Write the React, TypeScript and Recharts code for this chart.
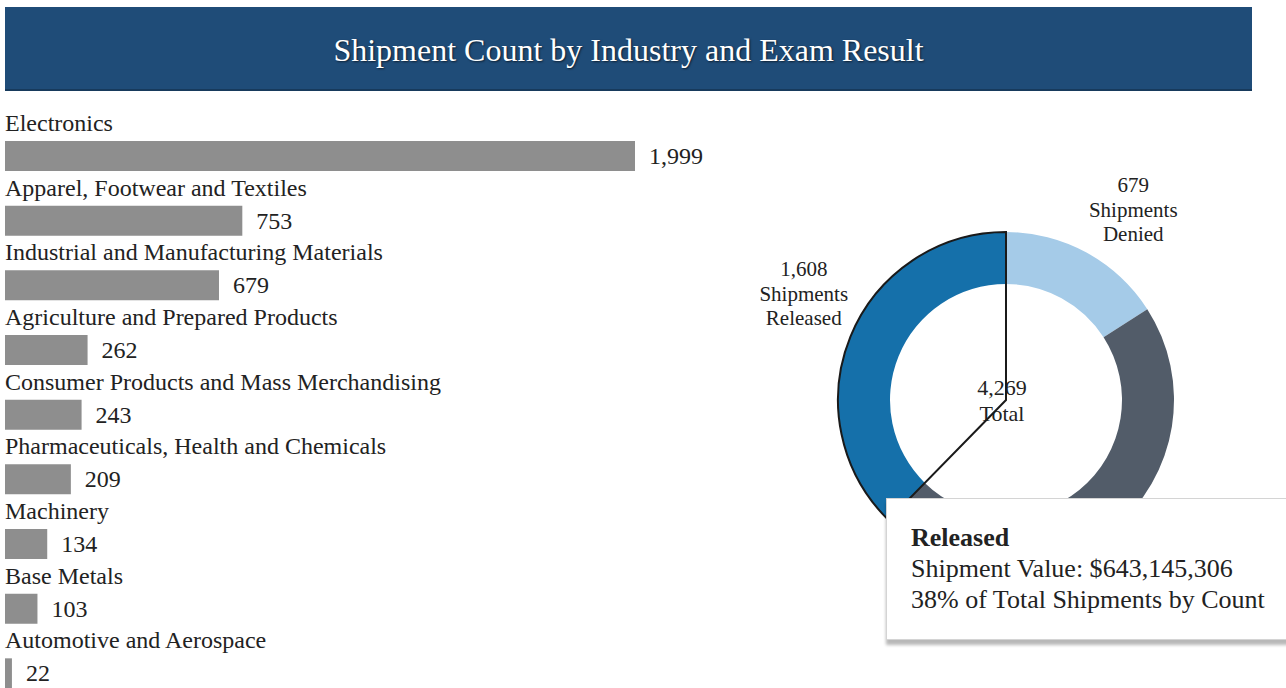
import React from 'react';
import { BarChart, Bar, XAxis, YAxis, LabelList, PieChart, Pie, Cell, Label } from 'recharts';

// ---------- data ----------
const chartTitle = 'Shipment Count by Industry and Exam Result';

const categories = [
  'Electronics',
  'Apparel, Footwear and Textiles',
  'Industrial and Manufacturing Materials',
  'Agriculture and Prepared Products',
  'Consumer Products and Mass Merchandising',
  'Pharmaceuticals, Health and Chemicals',
  'Machinery',
  'Base Metals',
  'Automotive and Aerospace',
];
const shipmentCounts = [1999, 753, 679, 262, 243, 209, 134, 103, 22];

const examResults = ['Denied', 'Other', 'Released'];
const examCounts = [679, 1982, 1608];
const examShowLabel = [true, false, true];
const examColors = ['#a5cbe8', '#525c69', '#1570aa'];

const tooltipResultIndex = 2;
const tooltipShipmentValue = 643145306;

// ---------- derived ----------
const FONT = "'Liberation Serif', 'DejaVu Serif', serif";
const TEXT = '#222';
const fmt = (n: number) => n.toLocaleString('en-US');

const industryData = categories.map((name, i) => ({ name, value: shipmentCounts[i] }));
const examData = examResults.map((name, i) => ({ name, value: examCounts[i] }));
const totalCount = examCounts.reduce((a, b) => a + b, 0);
const tooltipPct = Math.round((examCounts[tooltipResultIndex] / totalCount) * 100);

const RADIAN = Math.PI / 180;

const CategoryLabel = (props: any) => {
  const { x, y, value } = props;
  return (
    <text x={Number(x)} y={Number(y) - 10} fontSize={24} fontFamily={FONT} fill={TEXT}>
      {value}
    </text>
  );
};

const ValueLabel = (props: any) => {
  const { x, y, width, height, value } = props;
  return (
    <text
      x={Number(x) + Number(width) + 14}
      y={Number(y) + Number(height) / 2 + 8}
      fontSize={24}
      fontFamily={FONT}
      fill={TEXT}
    >
      {fmt(Number(value))}
    </text>
  );
};

const renderSliceLabel = (props: any) => {
  const { cx, cy, midAngle, index, value } = props;
  if (!examShowLabel[index]) return null;
  const a = (midAngle - 5.3) * RADIAN;
  const r = 228;
  const x = cx + r * Math.cos(a);
  const y = cy - r * Math.sin(a);
  return (
    <text x={x} y={y} textAnchor="middle" fontSize={21} fontFamily={FONT} fill={TEXT}>
      <tspan x={x} y={y - 19}>{fmt(value)}</tspan>
      <tspan x={x} y={y + 6}>Shipments</tspan>
      <tspan x={x} y={y + 30}>{examResults[index]}</tspan>
    </text>
  );
};

const CenterLabel = (props: any) => {
  const vb = props.viewBox || {};
  const cx = vb.cx ?? 266;
  const cy = vb.cy ?? 300;
  return (
    <text x={cx} y={cy} textAnchor="middle" fontSize={22} fontFamily={FONT} fill={TEXT}>
      <tspan x={cx - 4} y={cy - 5}>{fmt(totalCount)}</tspan>
      <tspan x={cx - 4} y={cy + 21}>Total</tspan>
    </text>
  );
};

export default function App() {
  return (
    <div
      style={{
        position: 'absolute',
        left: 0,
        top: 0,
        width: 1286,
        height: 688,
        overflow: 'hidden',
        background: '#fff',
        fontFamily: FONT,
      }}
    >
      <div
        style={{
          position: 'absolute',
          left: 5,
          top: 7,
          width: 1247,
          height: 82,
          background: '#1f4c78',
          borderBottom: '2px solid #173a5c',
          color: '#fff',
          fontSize: 32,
          lineHeight: '86px',
          textAlign: 'center',
          textShadow: '1px 1px 2px rgba(0,0,0,0.6)',
        }}
      >
        {chartTitle}
      </div>

      <div style={{ position: 'absolute', left: 0, top: 0 }}>
        <BarChart
          width={735}
          height={706}
          data={industryData}
          layout="vertical"
          margin={{ top: 124, right: 100, bottom: 0, left: 5 }}
          barCategoryGap={0}
        >
          <XAxis type="number" domain={[0, 1999]} hide />
          <YAxis type="category" dataKey="name" hide />
          <Bar dataKey="value" fill="#8e8e8e" barSize={30} isAnimationActive={false}>
            <LabelList dataKey="name" content={CategoryLabel} />
            <LabelList dataKey="value" content={ValueLabel} />
          </Bar>
        </BarChart>
      </div>

      <div style={{ position: 'absolute', left: 740, top: 100 }}>
        <PieChart width={546} height={588} margin={{ top: 0, right: 0, bottom: 0, left: 0 }}>
          <Pie
            data={examData}
            dataKey="value"
            nameKey="name"
            cx={266}
            cy={300}
            innerRadius={116}
            outerRadius={168}
            startAngle={90}
            endAngle={-270}
            stroke="none"
            label={renderSliceLabel}
            labelLine={false}
            isAnimationActive={false}
          >
            {examData.map((d, i) => (
              <Cell key={d.name} fill={examColors[i]} stroke="none" />
            ))}
            <Label position="center" content={CenterLabel} />
          </Pie>
          <Pie
            data={examData}
            dataKey="value"
            nameKey="name"
            cx={266}
            cy={300}
            innerRadius={0}
            outerRadius={168}
            startAngle={90}
            endAngle={-270}
            fill="none"
            isAnimationActive={false}
          >
            {examData.map((d, i) => (
              <Cell
                key={d.name}
                fill="none"
                stroke={i === tooltipResultIndex ? '#1a1a1a' : 'none'}
                strokeWidth={2}
              />
            ))}
          </Pie>
        </PieChart>
      </div>

      <div
        style={{
          position: 'absolute',
          left: 886,
          top: 498,
          width: 420,
          height: 142,
          boxSizing: 'border-box',
          background: '#fff',
          border: '1px solid #d4d4d4',
          boxShadow: '0 5px 3px rgba(0,0,0,0.28)',
          padding: '23px 0 0 24px',
          fontSize: 26,
          lineHeight: '31px',
          color: TEXT,
        }}
      >
        <div style={{ fontWeight: 'bold' }}>{examResults[tooltipResultIndex]}</div>
        <div>Shipment Value: ${fmt(tooltipShipmentValue)}</div>
        <div>{tooltipPct}% of Total Shipments by Count</div>
      </div>
    </div>
  );
}
